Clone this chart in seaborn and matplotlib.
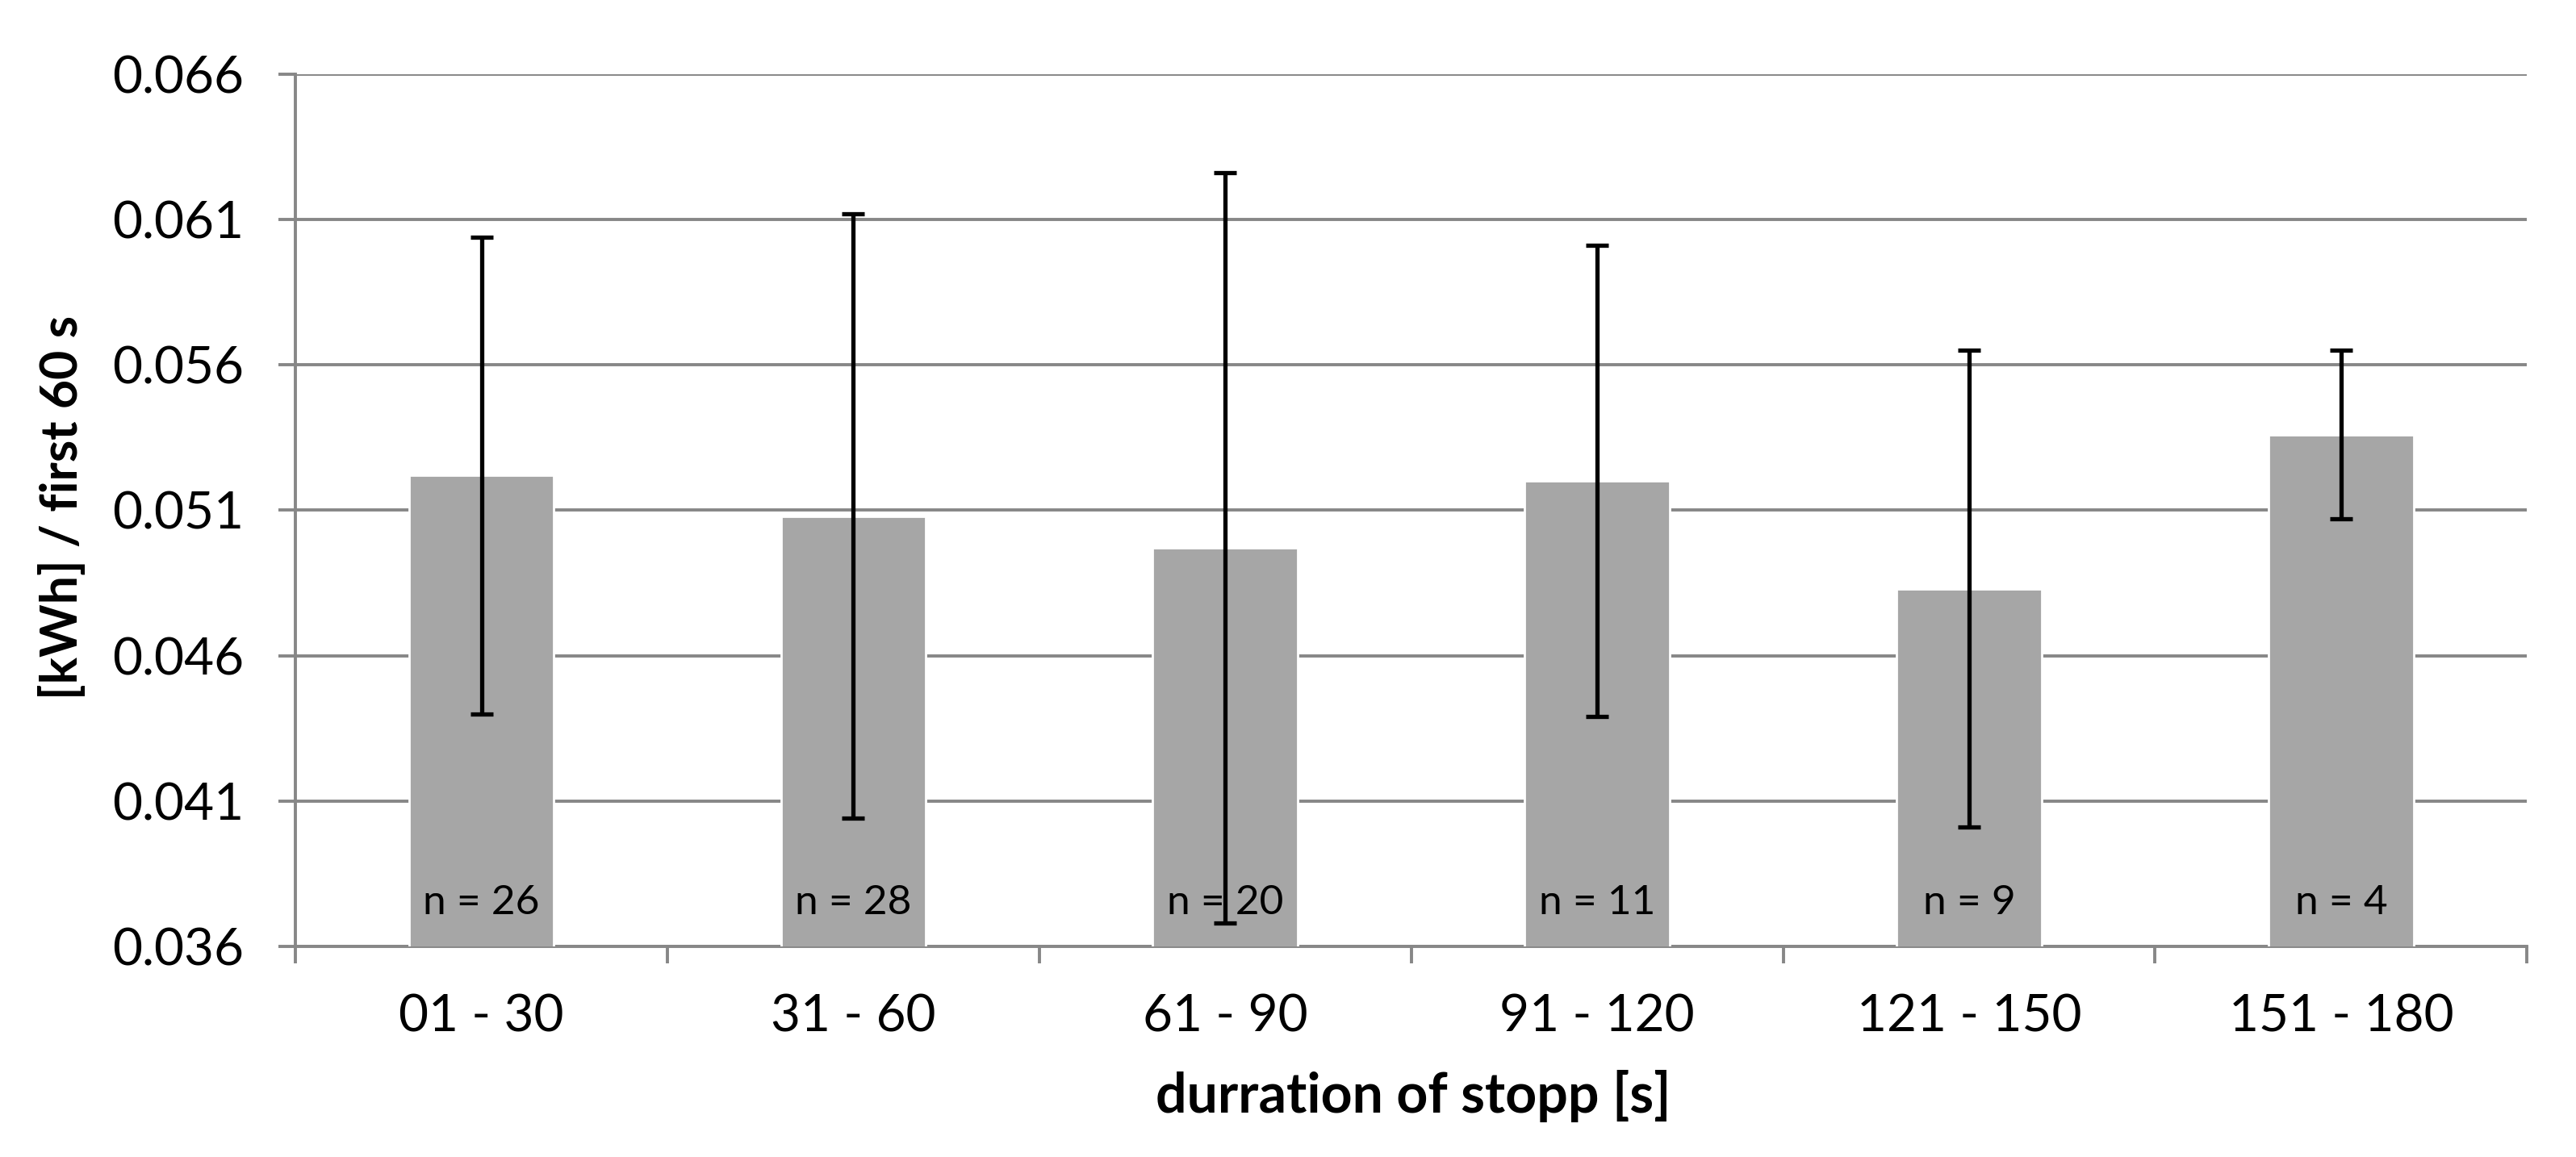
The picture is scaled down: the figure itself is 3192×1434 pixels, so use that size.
#!/usr/bin/env python3
"""
Energy use in the first 60 s after a stop, grouped by stop duration.
Bar chart with standard deviation error bars and sample counts.
"""

import matplotlib
matplotlib.use("Agg")
import matplotlib.pyplot as plt
import numpy as np
import pandas as pd
import seaborn as sns

# Data
durations = ['01 - 30', '31 - 60', '61 - 90', '91 - 120', '121 - 150', '151 - 180']
mean_kwh = [0.0522, 0.0508, 0.0497, 0.0520, 0.0483, 0.0536]
std_kwh = [0.0082, 0.0104, 0.0129, 0.0081, 0.0082, 0.0029]
sample_counts = [26, 28, 20, 11, 9, 4]
y_ticks = [0.036, 0.041, 0.046, 0.051, 0.056, 0.061, 0.066]
n_label_y = 0.0375

BAR_GREY = '#A6A6A6'
GRID_GREY = '#878787'


def main():
    sns.set_style('white')
    plt.rcParams['font.family'] = ['Lato', 'DejaVu Sans']
    plt.rcParams['text.color'] = 'black'
    plt.rcParams['axes.labelcolor'] = 'black'

    df = pd.DataFrame({'duration': durations, 'kwh': mean_kwh})

    fig = plt.figure(figsize=(15.96, 7.17), dpi=200)
    ax = fig.add_axes([0.1147, 0.182, 0.8663, 0.754])

    sns.barplot(data=df, x='duration', y='kwh', color=BAR_GREY,
                width=0.39, saturation=1, ax=ax, zorder=3)

    # error bars (symmetric)
    x_pos = np.arange(len(durations))
    ax.errorbar(x_pos, mean_kwh, yerr=std_kwh, fmt='none', ecolor='black',
                elinewidth=1.9, capsize=5.2, capthick=1.9, zorder=4)

    # sample size labels inside the bars
    for xi, n in zip(x_pos, sample_counts):
        ax.text(xi, n_label_y, f'n = {n}', ha='center', va='center',
                fontsize=18.5, color='black', zorder=5)

    ax.set_ylim(y_ticks[0], y_ticks[-1])
    ax.set_xlim(-0.5, len(durations) - 0.5)
    ax.set_yticks(y_ticks)
    ax.set_yticklabels([f'{t:.3f}' for t in y_ticks])

    # ticks between categories, labels centred under the bars
    ax.set_xticks(np.arange(-0.5, len(durations), 1.0))
    ax.set_xticklabels([])
    ax.set_xticks(x_pos, minor=True)
    ax.set_xticklabels(durations, minor=True)

    ax.yaxis.grid(True, color=GRID_GREY, linewidth=1.4, zorder=0)
    ax.xaxis.grid(False)
    ax.set_axisbelow(True)

    for side in ['top', 'right']:
        ax.spines[side].set_visible(False)
    for side in ['left', 'bottom']:
        ax.spines[side].set_color(GRID_GREY)
        ax.spines[side].set_linewidth(1.4)

    ax.tick_params(axis='y', which='major', length=7.6, width=1.4,
                   color=GRID_GREY, labelcolor='black', pad=15.5,
                   labelsize=23, left=True)
    ax.tick_params(axis='x', which='major', length=7.6, width=1.4,
                   color=GRID_GREY, bottom=True)
    ax.tick_params(axis='x', which='minor', length=0, pad=21,
                   labelsize=23, labelcolor='black')

    ax.set_xlabel('durration of stopp [s]', fontsize=24.5, fontweight='bold')
    ax.set_ylabel('[kWh] / first 60 s', fontsize=22.5, fontweight='bold')
    ax.xaxis.set_label_coords(0.501, -0.1415)
    ax.yaxis.set_label_coords(-0.0937, 0.503)

    fig.savefig('out.png', dpi=200)


if __name__ == '__main__':
    main()
